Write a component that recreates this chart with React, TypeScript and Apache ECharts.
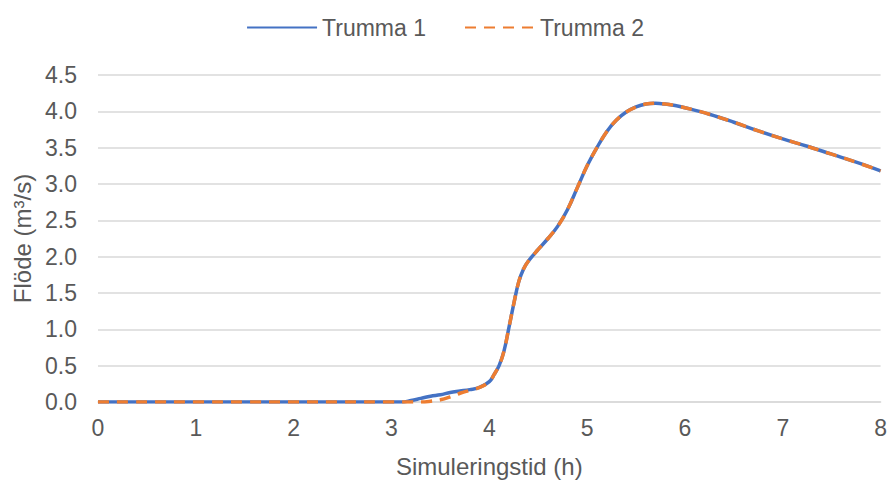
import React, { useEffect, useRef } from "react";
import * as echarts from "echarts";

const times = [0, 0.5, 1, 1.5, 2, 2.5, 3, 3.1, 3.2, 3.3, 3.4, 3.5, 3.6, 3.7, 3.8, 3.9, 4.0, 4.05, 4.1, 4.15, 4.2, 4.25, 4.3, 4.35, 4.4, 4.5, 4.6, 4.7, 4.8, 4.9, 5.0, 5.1, 5.2, 5.3, 5.4, 5.5, 5.6, 5.7, 5.8, 5.9, 6.0, 6.25, 6.5, 6.75, 7.0, 7.25, 7.5, 7.75, 8.0];
const trumma1 = [0, 0, 0, 0, 0, 0, 0, 0, 0.02, 0.05, 0.08, 0.1, 0.13, 0.15, 0.17, 0.2, 0.28, 0.38, 0.5, 0.7, 1.02, 1.35, 1.65, 1.83, 1.94, 2.1, 2.25, 2.42, 2.65, 2.95, 3.25, 3.5, 3.72, 3.88, 3.99, 4.06, 4.1, 4.11, 4.1, 4.08, 4.05, 3.96, 3.85, 3.73, 3.62, 3.52, 3.41, 3.3, 3.18];
const trumma2 = [0, 0, 0, 0, 0, 0, 0, 0, 0, 0, 0.01, 0.03, 0.07, 0.12, 0.16, 0.2, 0.28, 0.38, 0.5, 0.7, 1.02, 1.35, 1.65, 1.83, 1.94, 2.1, 2.25, 2.42, 2.65, 2.95, 3.25, 3.5, 3.72, 3.88, 3.99, 4.06, 4.1, 4.11, 4.1, 4.08, 4.05, 3.96, 3.85, 3.73, 3.62, 3.52, 3.41, 3.3, 3.18];
const seriesNames = ["Trumma 1", "Trumma 2"];

const FONT = "'Liberation Sans', Arial, sans-serif";
const TXT = "#595959";

export default function App() {
  const ref = useRef<HTMLDivElement>(null);
  useEffect(() => {
    if (!ref.current) return;
    const chart = echarts.init(ref.current, undefined, { renderer: "svg" });
    chart.setOption({
      animation: false,
      textStyle: { fontFamily: FONT },
      legend: {
        top: 11,
        left: "center",
        itemWidth: 70,
        itemHeight: 14,
        itemGap: 38,
        itemStyle: { opacity: 0 },
        textStyle: { fontSize: 23, color: TXT, fontFamily: FONT },
        data: seriesNames,
      },
      grid: { left: 98, right: 8, top: 75, bottom: 78 },
      xAxis: {
        type: "value",
        min: 0,
        max: 8,
        interval: 1,
        name: "Simuleringstid (h)",
        nameLocation: "middle",
        nameGap: 52,
        nameTextStyle: { fontSize: 24, color: TXT, fontFamily: FONT },
        axisLine: { show: true, lineStyle: { color: "#d9d9d9", width: 1.5 } },
        axisTick: { show: false },
        splitLine: { show: false },
        axisLabel: { fontSize: 23, color: TXT, margin: 14, fontFamily: FONT },
      },
      yAxis: {
        type: "value",
        min: 0,
        max: 4.5,
        interval: 0.5,
        name: "Flöde (m³/s)",
        nameLocation: "middle",
        nameGap: 64,
        nameTextStyle: { fontSize: 24, color: TXT, fontFamily: FONT },
        axisLine: { show: false },
        axisTick: { show: false },
        splitLine: { show: true, lineStyle: { color: "#d9d9d9", width: 1.5 } },
        axisLabel: {
          fontSize: 23,
          color: TXT,
          margin: 21,
          fontFamily: FONT,
          formatter: (v: number) => v.toFixed(1),
        },
      },
      series: [
        {
          name: seriesNames[0],
          type: "line",
          data: times.map((t, i) => [t, trumma1[i]]),
          showSymbol: false,
          symbol: "none",
          smooth: 0.4,
          lineStyle: { color: "#4472C4", width: 3.5 },
          itemStyle: { color: "#4472C4" },
        },
        {
          name: seriesNames[1],
          type: "line",
          data: times.map((t, i) => [t, trumma2[i]]),
          showSymbol: false,
          symbol: "none",
          smooth: 0.4,
          lineStyle: { color: "#ED7D31", width: 3.5, type: [11, 8] },
          itemStyle: { color: "#ED7D31" },
        },
      ],
    });
    return () => chart.dispose();
  }, []);
  return (
    <div
      ref={ref}
      style={{ position: "absolute", left: 0, top: 0, width: 890, height: 483 }}
    />
  );
}
